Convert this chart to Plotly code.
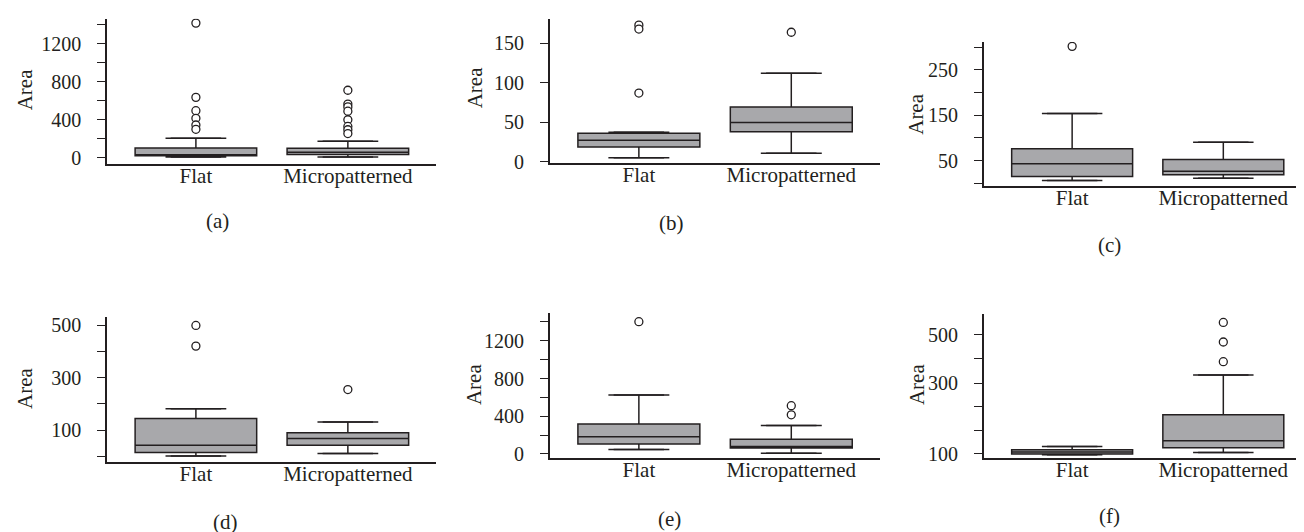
import numpy as np
import plotly.graph_objects as go

W, H = 1304, 532

groups = ["Flat", "Micropatterned"]
panel_names = ["(a)", "(b)", "(c)", "(d)", "(e)", "(f)"]

# box statistics per panel: [Flat, Micropatterned]
a_q1 = [21, 35]; a_med = [33, 58]; a_q3 = [103, 100]; a_lo = [8, 8]; a_hi = [207, 175]
a_out_flat = [1415, 635, 495, 415, 345, 300]
a_out_micro = [710, 565, 535, 490, 400, 330, 295, 255]

b_q1 = [18.6, 38]; b_med = [27.3, 49.6]; b_q3 = [36, 69.5]; b_lo = [5, 10.8]; b_hi = [37.5, 112]
b_out_flat = [173, 168, 87]
b_out_micro = [164]

c_q1 = [15, 19]; c_med = [43, 26.5]; c_q3 = [76, 52.5]; c_lo = [6, 11]; c_hi = [154, 90.5]
c_out_flat = [302]
c_out_micro = []

d_q1 = [14, 42.5]; d_med = [42.5, 67.5]; d_q3 = [144, 90]; d_lo = [1, 11]; d_hi = [182, 131]
d_out_flat = [500, 421]
d_out_micro = [255]

e_q1 = [104, 62]; e_med = [183, 80]; e_q3 = [318, 156]; e_lo = [48, 6]; e_hi = [626, 301]
e_out_flat = [1403]
e_out_micro = [512, 415]

f_q1 = [100, 113]; f_med = [104, 129]; f_q3 = [109, 198]; f_lo = [98, 103]; f_hi = [116, 331]
f_out_flat = []
f_out_micro = [559, 467, 383]

# y tick settings
a_ticks = [0, 400, 800, 1200]
b_ticks = [0, 50, 100, 150]
c_ticks = [50, 150, 250]
d_ticks = [100, 300, 500]
e_ticks = [0, 400, 800, 1200]
f_tick_vals = [100, 154, 222, 300, 395, 500]
f_tick_text = ["100", "", "", "300", "", "500"]

panels = [
    dict(q1=a_q1, med=a_med, q3=a_q3, lo=a_lo, hi=a_hi, of=a_out_flat, om=a_out_micro),
    dict(q1=b_q1, med=b_med, q3=b_q3, lo=b_lo, hi=b_hi, of=b_out_flat, om=b_out_micro),
    dict(q1=c_q1, med=c_med, q3=c_q3, lo=c_lo, hi=c_hi, of=c_out_flat, om=c_out_micro),
    dict(q1=d_q1, med=d_med, q3=d_q3, lo=d_lo, hi=d_hi, of=d_out_flat, om=d_out_micro),
    dict(q1=e_q1, med=e_med, q3=e_q3, lo=e_lo, hi=e_hi, of=e_out_flat, om=e_out_micro),
    dict(q1=f_q1, med=f_med, q3=f_q3, lo=f_lo, hi=f_hi, of=f_out_flat, om=f_out_micro),
]

# layout (pixels): left, right, top, bottom of axes; y range
geom = [
    dict(l=99, r=428, t=9, b=157, yr=[-62, 1460]),
    dict(l=541.7, r=871.7, t=9, b=156.7, yr=[-2.1, 181]),
    dict(l=975.7, r=1303, t=32.7, b=180, yr=[-6.5, 311.6]),
    dict(l=99, r=428, t=313.3, b=461.7, yr=[-22.5, 533]),
    dict(l=541.7, r=871.7, t=309.3, b=457.3, yr=[-41.6, 1496]),
    dict(l=975.7, r=1303, t=310, b=457.3, yr=[9.59, 24.56]),
]
area_pos = [(17, 82), (467, 80), (908, 107), (17, 387), (466, 383), (909, 383)]
label_pos = [(210, 215), (663, 217), (1101, 240), (217, 523), (662, 520), (1101, 517)]

FONT = "Liberation Serif"
INK = "#231f20"
FILL = "#a8a8ab"
TICK_SIZE = 20
TEXT_SIZE = 21

fig = go.Figure()
layout = dict(width=W, height=H, margin=dict(l=0, r=0, t=0, b=0),
              paper_bgcolor="white", plot_bgcolor="white", showlegend=False,
              font=dict(family=FONT, size=TICK_SIZE, color=INK), annotations=[])

for i, (p, g) in enumerate(zip(panels, geom)):
    n = i + 1
    xa = "x" if n == 1 else f"x{n}"
    ya = "y" if n == 1 else f"y{n}"
    tf = (lambda v: list(np.sqrt(np.array(v, dtype=float)))) if n == 6 else (lambda v: list(v))

    fig.add_trace(go.Box(
        x=[0, 1], q1=tf(p["q1"]), median=tf(p["med"]), q3=tf(p["q3"]),
        lowerfence=tf(p["lo"]), upperfence=tf(p["hi"]),
        fillcolor=FILL, line=dict(color=INK, width=1.5), width=0.8,
        boxpoints=False, hoverinfo="skip", xaxis=xa, yaxis=ya))
    # whisker caps
    fig.add_trace(go.Scatter(
        x=[0, 1, 0, 1], y=tf(p["lo"]) + tf(p["hi"]), mode="markers",
        marker=dict(symbol="line-ew", size=36, line=dict(color=INK, width=1.5)),
        hoverinfo="skip", xaxis=xa, yaxis=ya))
    # outliers
    ox = [0] * len(p["of"]) + [1] * len(p["om"])
    oy = tf(p["of"]) + tf(p["om"])
    if ox:
        fig.add_trace(go.Scatter(
            x=ox, y=oy, mode="markers",
            marker=dict(symbol="circle", size=8, color="white", line=dict(color=INK, width=1.3)),
            hoverinfo="skip", xaxis=xa, yaxis=ya))

    xkey = "xaxis" if n == 1 else f"xaxis{n}"
    ykey = "yaxis" if n == 1 else f"yaxis{n}"
    layout[xkey] = dict(domain=[g["l"] / W, g["r"] / W], range=[-0.585, 1.58],
                        anchor=ya, tickvals=[0, 1], ticktext=groups, ticks="",
                        ticklabelstandoff=-8,
                        showline=True, linecolor=INK, linewidth=1.5, showgrid=False,
                        zeroline=False, tickfont=dict(family=FONT, size=TEXT_SIZE, color=INK),
                        fixedrange=True)
    yax = dict(domain=[1 - g["b"] / H, 1 - g["t"] / H], range=g["yr"], anchor=xa,
               showline=True, linecolor=INK, linewidth=1.5, showgrid=False, zeroline=False,
               ticks="outside", ticklen=8, tickwidth=1.3, tickcolor=INK,
               ticklabelstandoff=12,
               tickfont=dict(family=FONT, size=TICK_SIZE, color=INK), fixedrange=True)
    minor = dict(ticks="outside", ticklen=8, tickwidth=1.3, tickcolor=INK, showgrid=False)
    if n == 1:
        yax.update(tickvals=a_ticks); minor.update(dtick=200, tick0=0); yax["minor"] = minor
    elif n == 2:
        yax.update(tickvals=b_ticks)
    elif n == 3:
        yax.update(tickvals=c_ticks); minor.update(dtick=50, tick0=0); yax["minor"] = minor
    elif n == 4:
        yax.update(tickvals=d_ticks); minor.update(dtick=100, tick0=0); yax["minor"] = minor
    elif n == 5:
        yax.update(tickvals=e_ticks); minor.update(dtick=200, tick0=0); yax["minor"] = minor
    else:
        yax.update(tickvals=list(np.sqrt(np.array(f_tick_vals, dtype=float))), ticktext=f_tick_text)
    layout[ykey] = yax

    ax_, ay_ = area_pos[i]
    layout["annotations"].append(dict(text="Area", x=ax_ / W, y=1 - ay_ / H, xref="paper", yref="paper",
                                      textangle=-90, showarrow=False, xanchor="center", yanchor="middle",
                                      font=dict(family=FONT, size=TEXT_SIZE, color=INK)))
    lx, ly = label_pos[i]
    layout["annotations"].append(dict(text=panel_names[i], x=lx / W, y=1 - ly / H, xref="paper", yref="paper",
                                      showarrow=False, xanchor="center", yanchor="middle",
                                      font=dict(family=FONT, size=TEXT_SIZE, color=INK)))

fig.update_layout(**layout)
fig.write_html("out.html")
